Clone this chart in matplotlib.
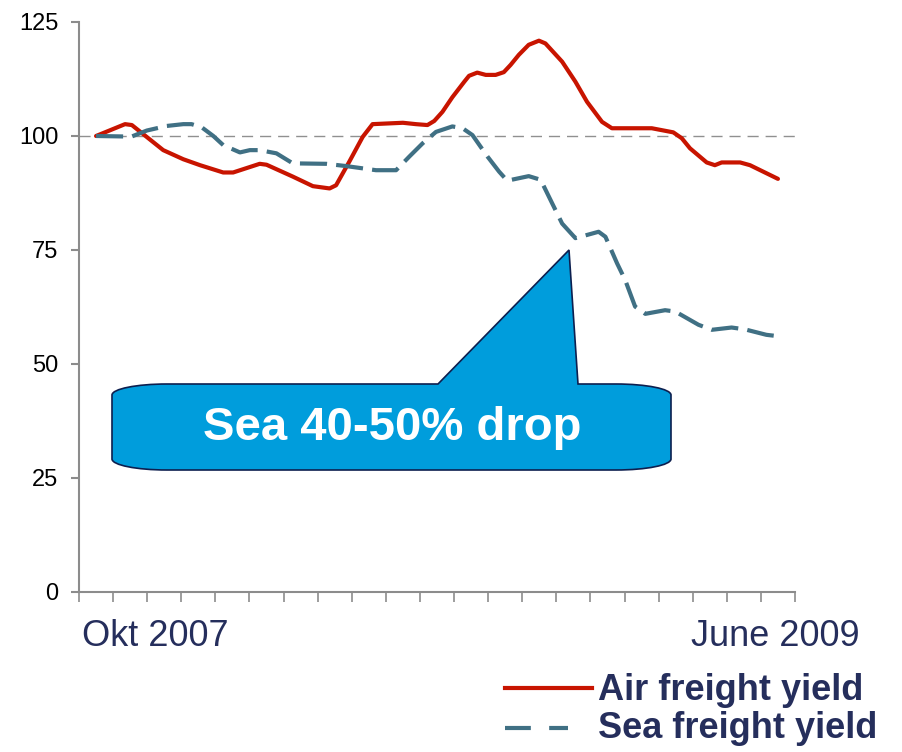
import matplotlib
matplotlib.use("Agg")
import matplotlib.pyplot as plt
from matplotlib.path import Path
from matplotlib.patches import PathPatch
from matplotlib.transforms import Affine2D
from matplotlib.lines import Line2D

plt.rcParams['font.family'] = ['Liberation Sans', 'DejaVu Sans']

# ---- data (months since Oct 2007) ----
air_t = [0.0, 0.85, 1.05, 1.97, 2.56, 3.05, 3.73, 4.02, 4.80, 5.0, 5.77, 6.36, 6.85, 7.04,
         7.43, 7.82, 8.11, 9.0, 9.38, 9.72, 9.92, 10.16, 10.45, 10.80, 10.94, 11.18, 11.43,
         11.72, 11.96, 12.16, 12.40, 12.69, 12.99, 13.18, 13.67, 14.06, 14.40, 14.84, 15.13,
         16.30, 16.93, 17.18, 17.42, 17.91, 18.15, 18.35, 18.89, 19.18, 20.0]
air_v = [100, 102.6, 102.4, 96.9, 94.9, 93.6, 92.0, 92.0, 93.9, 93.7, 91.1, 89.0, 88.5, 89.2,
         94.4, 99.8, 102.6, 102.9, 102.6, 102.4, 103.3, 105.3, 108.5, 111.9, 113.2, 113.9, 113.4,
         113.4, 114.0, 115.6, 117.8, 120.0, 120.9, 120.3, 116.3, 111.9, 107.5, 103.1, 101.7,
         101.7, 100.8, 99.5, 97.3, 94.2, 93.6, 94.2, 94.2, 93.6, 90.6]

sea_t = [0.0, 0.8, 1.05, 1.49, 2.07, 2.56, 2.8, 3.1, 3.44, 3.73, 4.22, 4.51, 4.8, 5.29, 5.77,
         6.75, 7.34, 8.21, 8.8, 9.19, 9.58, 9.97, 10.45, 10.75, 11.04, 11.48, 11.82, 12.06,
         12.69, 13.04, 13.38, 13.67, 14.06, 14.74, 14.94, 15.28, 15.52, 15.81, 16.11, 16.69,
         16.99, 17.67, 18.06, 18.64, 19.03, 19.66, 20.0]
sea_v = [100, 99.9, 99.9, 101.2, 102.2, 102.6, 102.6, 101.9, 100.0, 98.0, 96.4, 96.9, 96.9,
         96.2, 94.0, 93.9, 93.4, 92.5, 92.5, 95.5, 98.4, 100.9, 102.1, 101.7, 100.2, 95.5, 92.2,
         90.2, 91.2, 90.4, 85.2, 80.8, 77.6, 79.0, 77.9, 72.1, 68.4, 62.6, 61.0, 61.8, 61.5,
         58.6, 57.5, 58.0, 57.6, 56.4, 56.1]

y_ticks = [0, 25, 50, 75, 100, 125]
n_months = 21
x_labels = ["Okt 2007", "June 2009"]
series_names = ["Air freight yield", "Sea freight yield"]
callout_text = "Sea 40-50% drop"

RED = '#C81400'
SEA = '#407084'
NAVY = '#252E5C'
GRAY = '#8C8C8C'

W, H = 902, 752
fig = plt.figure(figsize=(W / 100, H / 100), dpi=100)
ax = fig.add_axes([79 / W, 1 - 592 / H, (795 - 79) / W, (592 - 22) / H])

ax.axhline(100, color='#909090', lw=1.0, dashes=(8, 5), zorder=1)
ax.plot(air_t, air_v, color=RED, lw=3.0, solid_capstyle='round', solid_joinstyle='round', zorder=3)
ax.plot(sea_t, sea_v, color=SEA, lw=3.0, dashes=(6.5, 2.2), zorder=3)

ax.set_xlim(-0.5, n_months - 0.5)
ax.set_ylim(0, 125)
ax.set_yticks(y_ticks)
ax.set_yticklabels([str(v) for v in y_ticks], fontsize=17, color='black')
ax.set_xticks([i - 0.5 for i in range(n_months + 1)])
ax.set_xticklabels([])
ax.tick_params(axis='y', direction='out', length=6, width=1.5, color=GRAY, pad=9)
ax.tick_params(axis='x', direction='out', length=7, width=1.2, color=GRAY)
for s in ['top', 'right']:
    ax.spines[s].set_visible(False)
for s in ['left', 'bottom']:
    ax.spines[s].set_color(GRAY)
    ax.spines[s].set_linewidth(1.5)

# x-axis end labels
fig.text(82 / W, 1 - 636 / H, x_labels[0], fontsize=26, color=NAVY, ha='left', va='center')
fig.text(860 / W, 1 - 636 / H, x_labels[1], fontsize=26, color=NAVY, ha='right', va='center')

# callout shape in pixel coordinates
px = Affine2D().scale(1 / W, -1 / H).translate(0, 1) + fig.transFigure
L, R, T, B = 112, 671, 384, 470
rx, ry = 55, 11
k = 0.5523
verts = [
    (L + rx, T),
    (438, T), (569, 250), (578, T),
    (R - rx, T),
    (R - rx + k * rx, T), (R, T + ry - k * ry), (R, T + ry),
    (R, B - ry),
    (R, B - ry + k * ry), (R - rx + k * rx, B), (R - rx, B),
    (L + rx, B),
    (L + rx - k * rx, B), (L, B - ry + k * ry), (L, B - ry),
    (L, T + ry),
    (L, T + ry - k * ry), (L + rx - k * rx, T), (L + rx, T),
    (L + rx, T),
]
codes = ([Path.MOVETO] + [Path.LINETO] * 4 + [Path.CURVE4] * 3 + [Path.LINETO]
         + [Path.CURVE4] * 3 + [Path.LINETO] + [Path.CURVE4] * 3 + [Path.LINETO]
         + [Path.CURVE4] * 3 + [Path.CLOSEPOLY])
patch = PathPatch(Path(verts, codes), facecolor='#009DDC', edgecolor='#0D1F4F', lw=1.2,
                  transform=px, zorder=5)
fig.add_artist(patch)
fig.text(392 / W, 1 - 428 / H, callout_text, fontsize=34, fontweight='bold', color='white',
         ha='center', va='center', zorder=6)

# legend
fig.add_artist(Line2D([505 / W, 592 / W], [1 - 688 / H, 1 - 688 / H], color=RED, lw=3.0,
                      transform=fig.transFigure))
fig.add_artist(Line2D([505 / W, 568 / W], [1 - 728 / H, 1 - 728 / H], color=SEA, lw=3.0,
                      dashes=(6.2, 4.4), transform=fig.transFigure))
fig.text(598 / W, 1 - 690 / H, series_names[0], fontsize=26, fontweight='bold', color=NAVY,
         ha='left', va='center')
fig.text(598 / W, 1 - 728 / H, series_names[1], fontsize=26, fontweight='bold', color=NAVY,
         ha='left', va='center')

fig.savefig('out.png', dpi=100)
